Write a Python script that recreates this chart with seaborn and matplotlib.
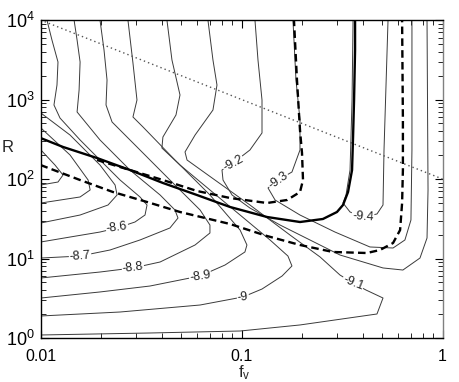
import numpy as np
import matplotlib
matplotlib.use("Agg")
import matplotlib.pyplot as plt
import matplotlib.ticker as mticker
import seaborn as sns

# All curve positions are read from the picture, given as log10(f_v) and log10(R)
# thin contour levels
c86_lf = [-1.968, -1.943, -1.913, -1.918, -1.933, -1.903, -1.803, -1.704, -1.604, -1.505, -1.470, -1.480, -1.530, -1.619, -1.704, -1.853, -1.998]
c86_lr = [4.0, 3.748, 3.472, 3.182, 2.931, 2.767, 2.491, 2.239, 1.987, 1.774, 1.673, 1.547, 1.459, 1.384, 1.333, 1.270, 1.208]
c87_lf = [-1.833, -1.818, -1.803, -1.808, -1.818, -1.704, -1.555, -1.405, -1.331, -1.316, -1.356, -1.505, -1.654, -1.803, -1.998]
c87_lr = [4.0, 3.748, 3.472, 3.119, 2.843, 2.491, 2.113, 1.799, 1.610, 1.509, 1.384, 1.233, 1.107, 1.031, 1.006]
c88_lf = [-1.704, -1.684, -1.669, -1.674, -1.644, -1.505, -1.356, -1.206, -1.157, -1.157, -1.231, -1.405, -1.540, -1.704, -1.998]
c88_lr = [4.0, 3.623, 3.245, 2.931, 2.717, 2.365, 1.987, 1.610, 1.421, 1.321, 1.170, 0.956, 0.881, 0.830, 0.755]
c89_lf = [-1.565, -1.540, -1.520, -1.540, -1.490, -1.331, -1.157, -1.007, -0.973, -0.983, -1.082, -1.206, -1.455, -1.704, -1.998]
c89_lr = [4.0, 3.459, 2.994, 2.780, 2.654, 2.239, 1.799, 1.358, 1.170, 1.082, 0.918, 0.780, 0.654, 0.579, 0.503]
c90_lf = [-1.371, -1.346, -1.306, -1.326, -1.391, -1.396, -1.306, -1.157, -1.007, -0.858, -0.769, -0.749, -0.798, -0.898, -0.993, -1.206, -1.604, -1.998]
c90_lr = [4.0, 3.497, 3.057, 2.805, 2.528, 2.390, 2.176, 1.862, 1.547, 1.233, 1.031, 0.906, 0.780, 0.616, 0.516, 0.415, 0.327, 0.277]
c91_lf = [-1.167, -1.142, -1.122, -1.142, -1.231, -1.281, -1.271, -1.132, -0.958, -0.759, -0.609, -0.510, -0.445, -0.381, -0.296, -0.326, -0.709, -1.007, -1.455, -1.998]
c91_lr = [4.0, 3.497, 3.182, 2.868, 2.553, 2.340, 2.239, 1.987, 1.673, 1.296, 1.019, 0.792, 0.692, 0.604, 0.503, 0.302, 0.164, 0.088, 0.063, 0.038]
c92_lf = [-0.933, -0.918, -0.898, -0.898, -0.958, -1.042, -1.097, -1.092, -1.047, -0.958, -0.808, -0.510, -0.296, -0.197, -0.112, -0.077, -0.072, -0.077]
c92_lr = [4.0, 3.497, 2.994, 2.579, 2.365, 2.201, 2.113, 1.987, 1.799, 1.635, 1.421, 1.044, 0.881, 0.855, 1.006, 1.258, 1.862, 4.0]
c93_lf = [-0.744, -0.729, -0.709, -0.709, -0.749, -0.818, -0.868, -0.833, -0.709, -0.535, -0.361, -0.246, -0.187, -0.157, -0.152, -0.152]
c93_lr = [4.0, 3.245, 2.742, 2.365, 2.088, 1.987, 1.887, 1.736, 1.547, 1.333, 1.145, 1.132, 1.233, 1.484, 2.365, 4.0]
c94_lf = [-0.445, -0.450, -0.460, -0.480, -0.495, -0.460, -0.396, -0.326, -0.296, -0.291, -0.271]
c94_lr = [4.0, 2.994, 2.113, 1.799, 1.698, 1.585, 1.522, 1.560, 1.673, 2.365, 4.0]
c85_lf = [-1.998, -1.853, -1.704, -1.629, -1.619, -1.664, -1.803, -1.998]
c85_lr = [2.830, 2.553, 2.176, 1.925, 1.799, 1.673, 1.547, 1.447]
c84_lf = [-1.998, -1.853, -1.763, -1.753, -1.803, -1.998]
c84_lr = [2.642, 2.302, 1.987, 1.862, 1.774, 1.698]
c83_lf = [-1.998, -1.928, -1.888, -1.913, -1.998]
c83_lr = [2.365, 2.176, 2.050, 1.962, 1.925]

# thick solid curve
solid_lf = [-2.0, -1.888, -1.719, -1.555, -1.391, -1.222, -1.057, -0.873, -0.709, -0.595, -0.525, -0.495, -0.470, -0.450, -0.445, -0.440, -0.435, -0.435]
solid_lr = [2.516, 2.403, 2.264, 2.113, 1.950, 1.799, 1.648, 1.522, 1.459, 1.497, 1.585, 1.673, 1.836, 2.113, 2.528, 2.994, 3.623, 4.0]
# thick dashed curves
dashA_lf = [-1.719, -1.555, -1.391, -1.221, -1.057, -0.873, -0.773, -0.709, -0.694, -0.699, -0.709, -0.724, -0.739]
dashA_lr = [2.239, 2.113, 1.987, 1.849, 1.761, 1.698, 1.736, 1.836, 1.987, 2.327, 2.616, 3.245, 4.0]
dashB_lf = [-2.0, -1.803, -1.639, -1.470, -1.306, -1.057, -0.873, -0.709, -0.545, -0.376, -0.311, -0.246, -0.211, -0.201, -0.197, -0.197, -0.201]
dashB_lr = [2.176, 1.987, 1.836, 1.711, 1.585, 1.434, 1.283, 1.170, 1.082, 1.069, 1.107, 1.195, 1.358, 1.698, 2.113, 2.742, 4.0]
# dotted line endpoints
dot_lf = [-2.0, 0.0]
dot_lr = [4.0, 2.0]

# contour labels
lab_text = ["-8.6", "-8.7", "-8.8", "-8.9", "-9", "-9.1", "-9.2", "-9.3", "-9.4"]
lab_lf = [-1.619, -1.803, -1.540, -1.206, -0.993, -0.445, -1.042, -0.818, -0.396]
lab_lr = [1.384, 1.031, 0.881, 0.780, 0.516, 0.692, 2.201, 1.987, 1.522]
lab_rot = [8, 4, 7, 9, 7, -22, 28, 35, -4]

sns.set_theme(style="ticks")
plt.rcParams["font.family"] = ["Liberation Sans", "DejaVu Sans"]
plt.rcParams["mathtext.default"] = "regular"

fig = plt.figure(figsize=(4.59, 3.82), dpi=100)
ax = fig.add_axes([40.5 / 459, 1 - 338 / 382, 402 / 459, 318 / 382])
ax.set_xscale("log")
ax.set_yscale("log")

thin = [(c86_lf, c86_lr), (c87_lf, c87_lr), (c88_lf, c88_lr), (c89_lf, c89_lr),
        (c90_lf, c90_lr), (c91_lf, c91_lr), (c92_lf, c92_lr), (c93_lf, c93_lr),
        (c94_lf, c94_lr), (c85_lf, c85_lr), (c84_lf, c84_lr), (c83_lf, c83_lr)]
for lf, lr in thin:
    sns.lineplot(x=10 ** np.array(lf), y=10 ** np.array(lr), sort=False, estimator=None,
                 color="#3a3a3a", lw=0.7, ax=ax)

sns.lineplot(x=10 ** np.array(dot_lf), y=10 ** np.array(dot_lr), sort=False, estimator=None,
             color="#555555", lw=1.0, linestyle=(0, (1, 2.2)), ax=ax)
sns.lineplot(x=10 ** np.array(solid_lf), y=10 ** np.array(solid_lr), sort=False, estimator=None,
             color="black", lw=1.7, ax=ax)
for lf, lr in [(dashA_lf, dashA_lr), (dashB_lf, dashB_lr)]:
    sns.lineplot(x=10 ** np.array(lf), y=10 ** np.array(lr), sort=False, estimator=None,
                 color="black", lw=1.7, linestyle=(0, (3.2, 1.8)), ax=ax)

for t, lf, lr, rot in zip(lab_text, lab_lf, lab_lr, lab_rot):
    ax.text(10 ** lf, 10 ** lr, t, fontsize=9, rotation=rot, ha="center", va="center",
            rotation_mode="anchor", color="#222222",
            bbox=dict(boxstyle="square,pad=0.05", fc="white", ec="none"), zorder=5)

ax.set_xlim(0.01, 1)
ax.set_ylim(1, 1e4)
ax.xaxis.set_major_locator(mticker.FixedLocator([0.01, 0.1, 1]))
ax.xaxis.set_major_formatter(mticker.FixedFormatter(["0.01", "0.1", "1"]))
ax.xaxis.set_minor_locator(mticker.LogLocator(base=10, subs=np.arange(2, 10)))
ax.xaxis.set_minor_formatter(mticker.NullFormatter())
ax.yaxis.set_major_locator(mticker.LogLocator(base=10, numticks=10))
ax.yaxis.set_major_formatter(mticker.LogFormatterMathtext())
ax.yaxis.set_minor_locator(mticker.LogLocator(base=10, subs=np.arange(2, 10), numticks=10))
ax.yaxis.set_minor_formatter(mticker.NullFormatter())
ax.tick_params(which="major", direction="in", length=6, width=0.8, top=True, right=True,
               colors="black")
ax.tick_params(axis="x", which="major", labelsize=11.5, pad=8)
ax.tick_params(axis="y", which="major", labelsize=13, pad=4)
ax.tick_params(which="minor", direction="in", length=3.5, width=0.7, top=True, right=True)
for s in ax.spines.values():
    s.set_linewidth(1.0)
    s.set_color("black")
ax.spines["right"].set_color("#808080")

ax.set_xlabel("f$_v$", fontsize=12, va="top")
ax.xaxis.set_label_coords(0.506, -0.080)
ax.set_ylabel("R", fontsize=12, rotation=0, va="center", ha="center")
ax.yaxis.set_label_coords(-0.083, 0.60)

fig.savefig("out.png", dpi=100)
